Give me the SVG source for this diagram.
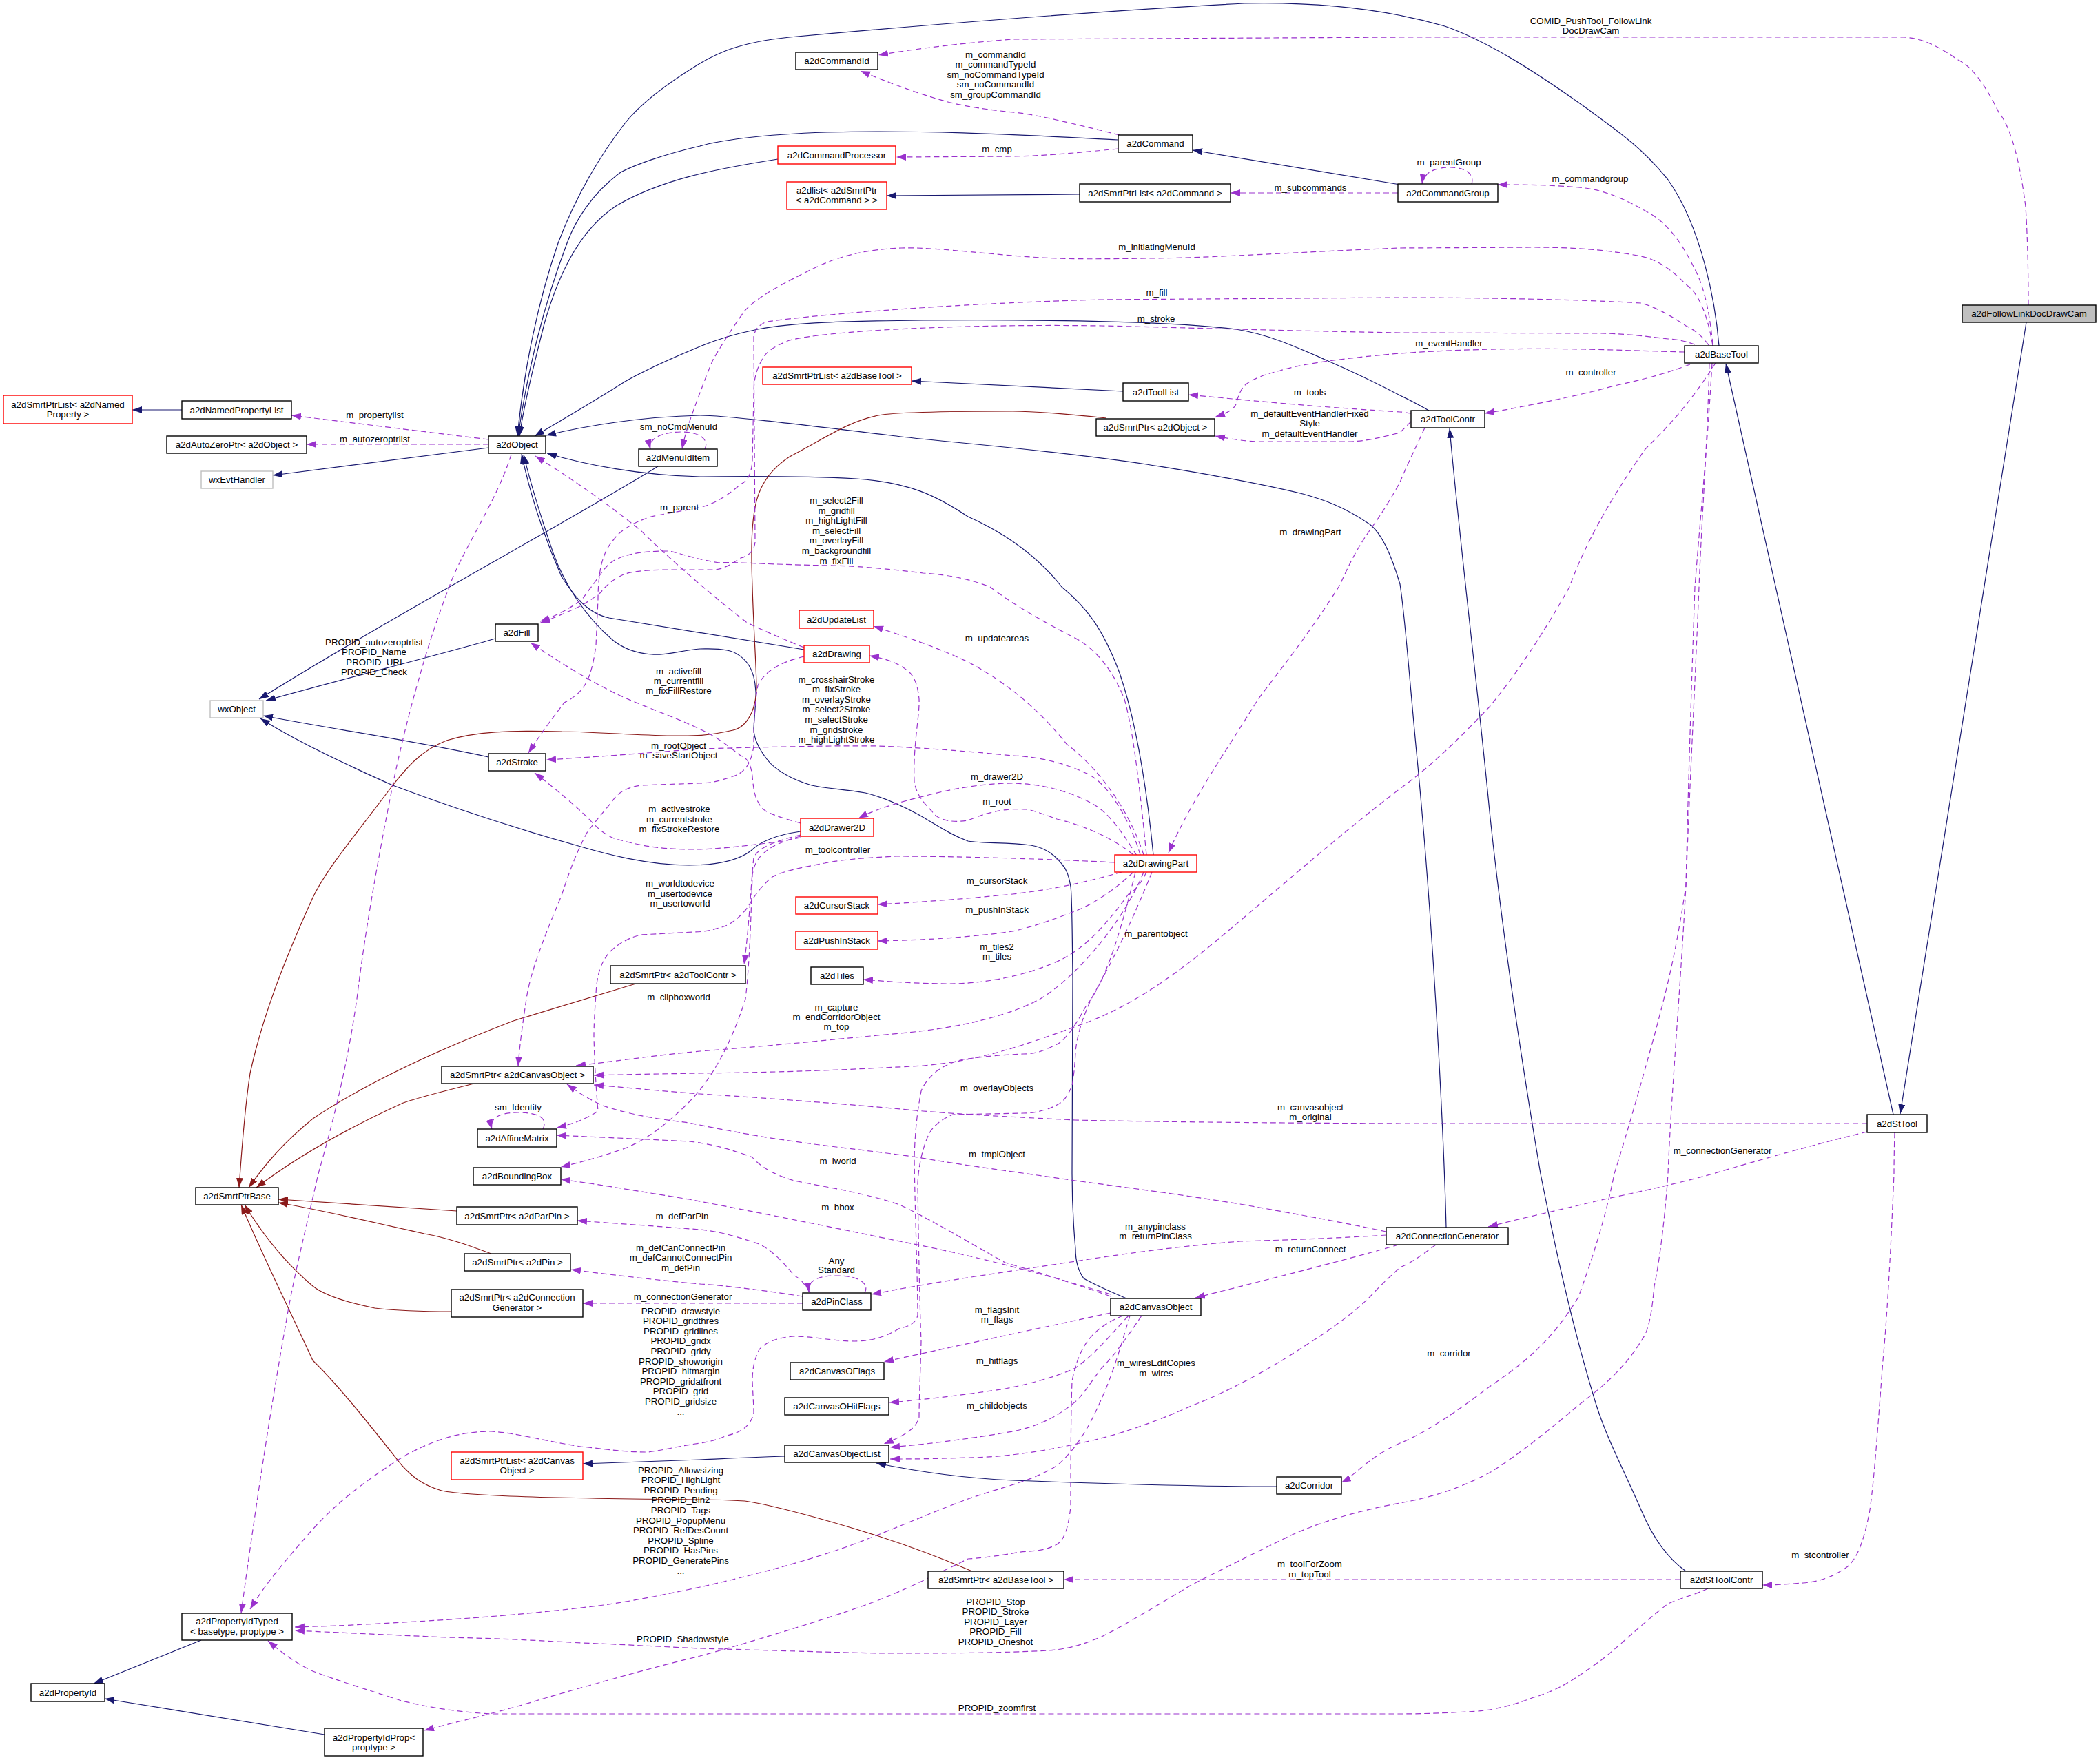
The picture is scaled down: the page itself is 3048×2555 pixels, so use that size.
<svg xmlns="http://www.w3.org/2000/svg" width="3048" height="2555" viewBox="0 0 3048 2555">
<style>
.t{font-family:"Liberation Sans",Arial,Helvetica,sans-serif;font-size:13.3px;text-anchor:middle;fill:#000}
.e{fill:none;stroke-width:1.2}
.b{stroke:#191970;marker-end:url(#ab)}
.r{stroke:#8b1a1a;marker-end:url(#ar)}
.p{stroke:#9a32cd;stroke-dasharray:8,5;marker-end:url(#ap)}
.n rect{fill:#fff;stroke:#000;stroke-width:1.4}
.nr rect{stroke:#ff0000}
.ng rect{stroke:#bfbfbf}
.nm rect{fill:#bfbfbf}
</style>
<defs>
<marker id="ab" markerUnits="userSpaceOnUse" markerWidth="15" markerHeight="11" refX="14" refY="5" orient="auto"><path d="M0,0 L14,5 L0,10 z" fill="#191970"/></marker>
<marker id="ar" markerUnits="userSpaceOnUse" markerWidth="15" markerHeight="11" refX="14" refY="5" orient="auto"><path d="M0,0 L14,5 L0,10 z" fill="#8b1a1a"/></marker>
<marker id="ap" markerUnits="userSpaceOnUse" markerWidth="15" markerHeight="11" refX="14" refY="5" orient="auto"><path d="M0,0 L14,5 L0,10 z" fill="#9a32cd"/></marker>
</defs>
<rect x="0" y="0" width="3048" height="2555" fill="#fff"/>
<g id="edges">
<path class="e b" d="M264,595 L192,595"/>
<path class="e b" d="M709,650 L396,690"/>
<path class="e b" d="M955,677 C820,760 560,900 376,1015"/>
<path class="e b" d="M719,927 C640,950 500,985 386,1017"/>
<path class="e b" d="M709,1099 C600,1075 480,1058 382,1039"/>
<path class="e b" d="M1162,1207 C1120,1213 1100,1225 1090,1235 C1070,1250 1040,1256 1000,1256 C940,1256 880,1240 836,1227 C740,1200 650,1170 570,1140 C480,1100 420,1070 378,1043"/>
<path class="e b" d="M1129,231 C1040,245 960,260 894,299 C840,335 810,400 790,470 C772,540 760,590 754,633"/>
<path class="e b" d="M1623,203 C1500,197 1350,188 1200,192 C1100,195 1040,205 1016,212 C960,225 920,240 901,250 C860,280 835,320 823,353 C790,440 765,540 752,633"/>
<path class="e b" d="M2495,502 C2490,440 2470,330 2421,261 C2380,210 2340,185 2304,158 C2230,105 2160,60 2097,38 C2000,10 1900,3 1806,5 C1600,15 1300,40 1146,54 C1070,62 1040,78 1016,92 C970,120 930,150 907,179 C860,240 830,300 810,353 C780,440 760,540 751,633"/>
<path class="e b" d="M2074,596 C2060,588 2045,580 2032,574 C1990,552 1960,538 1923,522 C1880,503 1840,485 1794,478 C1700,466 1500,464 1340,465 C1230,466 1150,468 1100,478 C1060,486 1035,495 1016,503 C970,522 935,538 907,554 C860,584 815,610 776,633"/>
<path class="e b" d="M2099,1782 C2097,1700 2085,1400 2058,1113 C2045,980 2040,900 2032,848 C2015,790 2000,770 1988,761 C1950,735 1920,725 1891,717 C1800,695 1700,680 1664,674 C1500,650 1350,640 1301,633 C1150,615 1050,603 1016,603 C930,605 850,618 793,632"/>
<path class="e b" d="M1674,1241 C1665,1150 1650,1050 1625,977 C1600,910 1575,880 1541,852 C1500,800 1450,770 1405,750 C1360,720 1320,700 1243,695 C1150,690 1060,692 1016,692 C930,690 850,675 794,658"/>
<path class="e b" d="M1167,943 L884,897 C850,890 830,860 815,837 C790,780 770,720 757,659"/>
<path class="e b" d="M1635,1885 C1600,1870 1580,1860 1573,1856 C1565,1845 1561,1830 1561,1813 C1558,1780 1556,1740 1556,1704 L1557,1420 C1556,1340 1556,1300 1554,1287 C1551,1270 1548,1262 1541,1254 C1530,1240 1515,1230 1496,1227 C1460,1222 1430,1225 1405,1221 C1380,1212 1360,1198 1334,1183 C1310,1170 1280,1157 1256,1151 C1220,1145 1200,1145 1178,1140 C1150,1132 1125,1118 1113,1102 C1100,1085 1094,1070 1094,1058 C1095,1035 1098,1015 1097,1004 C1096,985 1093,975 1087,966 C1080,955 1068,946 1055,944 C1040,941 1028,942 1016,942 C990,944 965,952 946,950 C920,948 902,940 888,928 C850,895 820,850 803,803 C790,765 772,710 760,660"/>
<path class="e b" d="M1567,282 L1287,284"/>
<path class="e b" d="M2032,268 L1731,218"/>
<path class="e b" d="M1630,568 L1323,553"/>
<path class="e b" d="M2748,1618 L2505,528"/>
<path class="e b" d="M2941,468 L2758,1617"/>
<path class="e b" d="M2447,2281 C2420,2262 2398,2230 2382,2192 C2355,2130 2333,2090 2317,2040 C2280,1920 2255,1800 2236,1704 C2205,1520 2180,1350 2162,1178 C2145,1000 2120,800 2104,622"/>
<path class="e b" d="M1853,2158 C1700,2158 1550,2152 1470,2149 C1400,2146 1330,2136 1272,2124"/>
<path class="e b" d="M1139,2114 C1080,2116 1040,2118 1016,2119 L846,2125"/>
<path class="e b" d="M292,2381 L136,2444"/>
<path class="e b" d="M471,2518 L152,2466"/>
<path class="e r" d="M1606,607 C1540,600 1500,597 1470,597 C1380,597 1300,598 1275,603 C1230,612 1200,635 1146,663 C1120,680 1105,700 1098,727 C1090,760 1090,800 1092,852 C1094,920 1098,970 1098,1000 C1097,1030 1085,1055 1064,1060 C1020,1070 1000,1068 968,1068 C900,1066 850,1062 815,1062 C740,1060 690,1062 648,1075 C610,1090 590,1115 570,1140 C510,1220 475,1260 454,1303 C410,1400 380,1480 363,1558 C355,1610 350,1680 347,1724"/>
<path class="e r" d="M923,1428 C850,1450 800,1465 745,1482 C620,1530 520,1580 454,1624 C410,1660 385,1690 361,1724"/>
<path class="e r" d="M688,1573 C640,1585 600,1595 583,1602 C500,1640 430,1680 372,1724"/>
<path class="e r" d="M663,1758 L404,1741"/>
<path class="e r" d="M713,1820 C680,1808 650,1797 616,1791 C530,1772 460,1755 404,1746"/>
<path class="e r" d="M655,1904 C600,1904 570,1902 544,1899 C500,1890 470,1880 454,1867 C410,1830 380,1790 355,1749"/>
<path class="e r" d="M1411,2281 C1350,2255 1300,2238 1275,2230 C1180,2200 1110,2183 1081,2179 C1050,2177 1020,2177 1016,2177 C800,2175 680,2172 641,2164 C610,2155 595,2140 583,2127 C530,2060 490,2010 454,1975 C410,1880 380,1820 350,1749"/>
<path class="e p" d="M709,638 L423,603"/>
<path class="e p" d="M709,645 L445,645"/>
<path class="e p" d="M1023,652 C1030,638 1015,627 990,627 C962,627 940,636 944,652"/>
<path class="e p" d="M2486,502 C2478,455 2465,425 2447,413 C2425,390 2405,377 2382,372 C2330,362 2280,359 2226,359 L2032,360 C1900,365 1750,375 1664,375 C1600,376 1560,376 1534,375 C1450,372 1360,358 1308,360 C1250,362 1210,375 1178,391 C1140,410 1100,430 1081,451 C1060,480 1045,505 1035,522 C1025,545 1020,560 1016,570 C1005,600 995,625 990,652"/>
<path class="e p" d="M1167,940 C1130,925 1100,912 1083,903 C1040,870 970,810 930,770 C880,730 830,695 777,662"/>
<path class="e p" d="M2486,500 C2480,440 2470,410 2460,391 C2440,350 2420,325 2395,310 C2360,290 2330,275 2291,272 C2250,268 2200,268 2174,268"/>
<path class="e p" d="M2944,443 C2944,380 2942,330 2940,300 C2930,220 2915,180 2901,163 C2880,120 2860,95 2842,87 C2810,65 2790,56 2764,54 L2032,54 L1470,57 C1400,62 1320,72 1275,80"/>
<path class="e p" d="M1625,196 C1560,180 1500,165 1470,163 C1420,158 1390,152 1372,147 C1330,135 1290,120 1249,103"/>
<path class="e p" d="M1623,216 C1560,222 1520,226 1470,227 L1301,228"/>
<path class="e p" d="M2136,267 C2140,255 2130,243 2105,243 C2080,243 2066,252 2064,267"/>
<path class="e p" d="M2029,280 L1786,280"/>
<path class="e p" d="M2480,501 C2470,487 2458,478 2447,473 C2420,455 2400,445 2382,440 C2300,435 2150,432 2032,432 L1599,435 C1400,440 1200,455 1113,467 C1100,472 1095,480 1094,489 L1096,787 C1095,800 1085,808 1075,810 C1060,820 1050,826 1037,827 L968,827 C930,828 910,830 899,837 C885,845 878,852 872,860 C860,870 850,875 842,880 C820,890 805,897 784,904"/>
<path class="e p" d="M2460,500 C2445,495 2432,492 2421,492 C2380,487 2350,484 2324,484 L2032,483 C1850,480 1700,475 1599,473 C1400,470 1200,480 1146,494 C1125,502 1112,510 1106,522 C1096,540 1094,555 1094,571 L1092,670 C1090,690 1085,698 1075,703 C1055,720 1035,733 1014,737 C990,742 968,745 945,750 C920,758 900,770 891,783 C880,795 875,810 872,823 C869,840 868,855 868,870 L865,937 C862,960 858,975 853,987 C845,1003 835,1012 819,1020 C800,1045 785,1065 767,1093"/>
<path class="e p" d="M2445,511 C2400,510 2350,508 2300,507 C2200,505 2100,508 2032,513 C1950,520 1890,528 1858,538 C1830,545 1815,552 1806,560 C1798,570 1796,580 1794,587 C1790,595 1780,600 1764,605"/>
<path class="e p" d="M2453,529 C2410,545 2380,552 2343,560 C2300,572 2260,580 2226,587 C2200,592 2180,596 2155,600"/>
<path class="e p" d="M2048,600 C2040,599 2035,598 2032,598 C1900,590 1800,580 1725,573"/>
<path class="e p" d="M2048,612 C2040,620 2035,625 2032,628 C2000,636 1980,641 1956,641 L1826,641 C1800,640 1780,636 1764,633"/>
<path class="e p" d="M2068,621 C2050,660 2040,680 2032,700 C2010,740 1995,760 1988,770 C1960,810 1950,840 1943,852 C1900,920 1860,970 1826,1015 C1780,1090 1730,1160 1696,1238"/>
<path class="e p" d="M1664,1241 C1655,1150 1645,1060 1632,1015 C1610,960 1580,935 1554,923 C1500,895 1460,870 1437,852 C1400,838 1370,834 1340,832 C1300,827 1250,822 1210,821 C1120,820 1060,815 1044,817 C1000,810 980,800 968,800 C930,800 910,805 899,810 C885,815 878,825 872,833 C860,850 852,860 845,870 C825,885 805,895 784,902"/>
<path class="e p" d="M1660,1241 C1640,1180 1600,1120 1548,1080 C1500,1020 1450,985 1405,961 C1350,935 1300,920 1268,909"/>
<path class="e p" d="M1655,1241 C1640,1190 1610,1140 1580,1124 C1540,1105 1500,1098 1470,1097 C1400,1090 1330,1085 1275,1083 C1200,1082 1100,1085 1016,1087 C950,1092 880,1098 793,1103"/>
<path class="e p" d="M1650,1242 C1630,1210 1610,1180 1586,1167 C1550,1147 1510,1138 1470,1137 C1420,1137 1370,1148 1340,1156 C1300,1166 1270,1175 1246,1188"/>
<path class="e p" d="M1645,1241 C1620,1220 1580,1200 1534,1189 C1510,1180 1495,1175 1489,1175 C1450,1172 1420,1185 1405,1191 C1380,1195 1360,1190 1353,1178 C1335,1160 1330,1150 1327,1135 C1325,1080 1335,1040 1334,1015 C1332,995 1328,985 1321,977 C1305,962 1285,956 1262,952"/>
<path class="e p" d="M1618,1252 C1500,1246 1380,1243 1300,1243 C1260,1245 1220,1248 1197,1253 C1160,1260 1135,1265 1121,1273 C1100,1290 1090,1310 1083,1320 C1070,1335 1060,1343 1044,1347 C1030,1351 1020,1353 1006,1353 L930,1357 C910,1362 895,1372 884,1383 C870,1400 866,1420 865,1443 C863,1470 862,1490 862,1504 C863,1550 866,1590 868,1613 C850,1625 830,1632 808,1637"/>
<path class="e p" d="M1162,1212 C1120,1222 1100,1232 1094,1245 C1090,1280 1088,1340 1080,1400"/>
<path class="e p" d="M1162,1214 C1110,1228 1096,1245 1092,1270 C1090,1330 1088,1400 1082,1450 C1060,1520 1030,1570 1000,1600 C960,1640 930,1658 907,1667 C870,1680 840,1688 814,1694"/>
<path class="e p" d="M1628,1266 C1560,1285 1520,1292 1470,1298 C1400,1305 1330,1310 1274,1313"/>
<path class="e p" d="M1645,1266 C1620,1290 1590,1310 1567,1320 C1530,1335 1500,1345 1470,1352 C1400,1362 1330,1365 1274,1366"/>
<path class="e p" d="M1664,1266 C1655,1285 1645,1295 1638,1298 C1600,1350 1570,1380 1534,1396 C1480,1420 1420,1428 1379,1428 C1330,1428 1290,1425 1253,1422"/>
<path class="e p" d="M1660,1266 C1630,1340 1560,1420 1510,1450 C1470,1472 1400,1492 1306,1500 C1200,1510 1100,1520 1016,1526 C950,1532 900,1540 836,1547"/>
<path class="e p" d="M2490,527 C2450,590 2420,620 2388,652 C2340,720 2300,790 2278,852 C2240,920 2200,980 2162,1026 C2120,1070 2080,1110 2032,1145 C1920,1230 1800,1340 1729,1395 C1670,1440 1620,1470 1567,1488 C1480,1520 1420,1540 1340,1547 C1200,1555 1100,1557 1016,1558 C950,1559 900,1560 862,1561"/>
<path class="e p" d="M2710,1631 L2032,1631 C1800,1630 1650,1628 1560,1626 C1480,1622 1400,1618 1340,1613 C1200,1600 1080,1592 1016,1588 C950,1583 900,1578 862,1575"/>
<path class="e p" d="M2012,1788 C1950,1775 1880,1762 1800,1748 C1700,1732 1620,1722 1561,1714 C1480,1702 1400,1692 1332,1680 C1260,1670 1200,1664 1153,1657 C1100,1650 1050,1640 1000,1630 C960,1625 920,1620 875,1605 C855,1596 838,1585 823,1574"/>
<path class="e p" d="M1612,1882 C1550,1860 1500,1845 1459,1833 C1400,1800 1350,1770 1306,1749 C1250,1730 1190,1722 1153,1714 C1120,1705 1100,1690 1092,1680 C1060,1668 1030,1660 1000,1657 C900,1652 850,1650 808,1648"/>
<path class="e p" d="M1612,1879 C1500,1845 1400,1820 1306,1802 C1200,1780 1100,1760 1000,1741 C900,1725 860,1718 814,1712"/>
<path class="e p" d="M788,1639 C795,1625 785,1615 752,1615 C722,1615 710,1625 714,1639"/>
<path class="e p" d="M1167,953 C1130,962 1110,975 1100,995 C1094,1030 1094,1060 1094,1083 C1090,1110 1080,1122 1064,1127 C1040,1135 1030,1137 1014,1137 L930,1140 C910,1143 898,1150 891,1160 C875,1180 862,1195 853,1207 C835,1240 825,1270 815,1300 C790,1360 770,1410 764,1450 C758,1490 754,1520 752,1548"/>
<path class="e p" d="M1162,1195 C1130,1186 1112,1180 1106,1173 C1096,1160 1094,1150 1092,1127 C1090,1110 1085,1100 1075,1097 C1060,1085 1040,1070 1025,1063 C980,1040 930,1025 890,1005 C850,985 810,960 770,933"/>
<path class="e p" d="M1162,1216 C1140,1220 1130,1223 1121,1223 C1080,1228 1040,1233 1006,1233 C950,1233 920,1225 891,1217 C875,1210 865,1200 853,1187 C830,1165 800,1140 776,1122"/>
<path class="e p" d="M742,660 C720,730 670,800 652,852 C630,910 618,950 609,982 C595,1030 580,1090 570,1140 C550,1240 530,1350 518,1450 C502,1560 480,1640 462,1704 C440,1800 425,1860 415,1921 C390,2060 365,2230 350,2342"/>
<path class="e p" d="M1648,1266 C1620,1380 1600,1430 1576,1461 C1560,1490 1550,1505 1536,1515 C1510,1528 1500,1530 1485,1530 C1440,1532 1420,1535 1398,1538 C1380,1542 1365,1550 1357,1557 C1345,1568 1340,1576 1337,1584 C1330,1620 1328,1650 1327,1680 C1328,1760 1332,1860 1332,1909 C1330,1920 1320,1926 1306,1928 C1290,1938 1270,1947 1240,1947 C1210,1947 1180,1940 1153,1940 C1125,1942 1110,1950 1102,1959 C1094,1975 1092,1990 1092,2005 C1093,2030 1094,2040 1094,2051 C1090,2070 1075,2080 1055,2084 C1040,2090 1030,2093 1016,2095 C980,2100 960,2106 940,2108 C900,2108 870,2102 843,2100 C790,2092 750,2080 713,2078 C660,2078 620,2095 583,2116 C530,2150 490,2180 454,2220 C410,2270 385,2300 363,2336"/>
<path class="e p" d="M1672,1266 C1630,1370 1600,1420 1584,1450 C1570,1480 1563,1505 1561,1527 C1560,1550 1558,1565 1556,1576 C1550,1590 1545,1598 1536,1603 C1520,1612 1500,1616 1485,1616 L1383,1618 C1365,1625 1352,1637 1347,1649 C1338,1670 1333,1695 1332,1718 C1333,1800 1335,1900 1337,1947 C1336,1990 1334,2030 1334,2057 C1330,2075 1310,2085 1283,2096"/>
<path class="e p" d="M1640,1910 C1625,1960 1615,1995 1599,2030 C1580,2075 1560,2105 1535,2127 C1500,2150 1450,2160 1405,2176 C1340,2200 1270,2232 1210,2252 C1140,2275 1070,2292 1016,2304 C950,2318 900,2328 843,2334 C750,2345 650,2352 548,2357 C500,2360 460,2361 428,2362"/>
<path class="e p" d="M1630,1910 C1580,1930 1565,1960 1556,2005 C1554,2060 1554,2150 1554,2188 C1550,2220 1545,2235 1534,2242 C1510,2255 1490,2250 1470,2255 C1440,2260 1420,2262 1405,2263 C1360,2285 1320,2305 1275,2323 C1230,2340 1190,2352 1146,2366 C1100,2380 1050,2395 1016,2404 C950,2420 860,2445 778,2469 C720,2487 660,2500 616,2512"/>
<path class="e p" d="M2481,527 C2478,650 2470,750 2466,852 C2460,1000 2452,1150 2447,1286 C2438,1450 2425,1600 2421,1704 C2415,1790 2405,1850 2401,1867 C2398,1900 2395,1920 2388,1937 C2360,1985 2330,2010 2291,2040 C2250,2075 2200,2115 2162,2138 C2110,2165 2070,2175 2032,2182 C1960,2195 1900,2215 1859,2236 C1810,2260 1770,2280 1729,2301 C1680,2330 1640,2355 1599,2376 C1570,2388 1550,2394 1521,2396 C1450,2400 1350,2400 1275,2400 C1180,2398 1090,2395 1016,2393 C950,2390 900,2387 843,2385 C760,2380 700,2378 648,2377 C560,2373 490,2370 428,2367"/>
<path class="e p" d="M2485,527 C2478,650 2468,750 2460,852 C2455,1000 2450,1150 2447,1286 C2430,1400 2415,1450 2401,1504 C2380,1580 2360,1650 2343,1704 C2330,1770 2310,1830 2291,1883 C2250,1950 2210,1980 2162,2013 C2120,2045 2070,2080 2032,2095 C2010,2105 1990,2118 1973,2133 C1962,2142 1955,2148 1947,2152"/>
<path class="e p" d="M2710,1643 C2620,1665 2550,1685 2486,1704 C2420,1722 2370,1732 2324,1742 C2270,1755 2210,1768 2160,1781"/>
<path class="e p" d="M2750,1644 C2749,1680 2749,1700 2749,1704 C2745,1800 2740,1900 2733,1975 C2725,2080 2720,2150 2714,2192 C2705,2240 2695,2262 2682,2274 C2660,2290 2640,2296 2617,2298 C2590,2300 2575,2301 2558,2301"/>
<path class="e p" d="M2439,2293 L1544,2293"/>
<path class="e p" d="M2479,2306 C2460,2315 2440,2320 2421,2328 C2380,2360 2350,2390 2324,2410 C2290,2435 2260,2455 2226,2464 C2190,2478 2160,2484 2129,2485 C2090,2487 2060,2488 2032,2488 L1016,2488 C900,2488 800,2488 713,2488 C660,2485 620,2478 583,2469 C540,2455 490,2440 454,2426 C430,2415 410,2400 389,2382"/>
<path class="e p" d="M2012,1793 C1950,1797 1870,1800 1800,1802 C1700,1810 1620,1822 1561,1831 C1450,1848 1350,1862 1265,1879"/>
<path class="e p" d="M2030,1807 C1950,1830 1850,1855 1735,1884"/>
<path class="e p" d="M2084,1807 C2060,1825 2045,1835 2032,1840 C2010,1860 2000,1870 1988,1883 C1950,1920 1900,1950 1859,1976 C1810,2005 1770,2025 1729,2041 C1680,2063 1620,2085 1567,2095 C1510,2108 1450,2116 1405,2116 C1350,2118 1320,2118 1292,2118"/>
<path class="e p" d="M1657,1910 C1630,1950 1615,1970 1599,1986 C1580,2010 1570,2030 1554,2040 C1530,2060 1500,2072 1470,2078 C1400,2090 1340,2097 1292,2101"/>
<path class="e p" d="M1612,1906 C1500,1930 1350,1962 1283,1977"/>
<path class="e p" d="M1638,1910 C1610,1940 1590,1965 1561,1986 C1530,2000 1490,2010 1459,2016 C1400,2025 1340,2032 1291,2036"/>
<path class="e p" d="M1255,1877 C1262,1865 1250,1852 1214,1852 C1185,1852 1172,1860 1174,1876"/>
<path class="e p" d="M1176,1877 C1165,1860 1160,1855 1153,1852 C1135,1830 1120,1815 1102,1806 C1070,1795 1040,1787 1016,1785 C950,1780 880,1775 838,1772"/>
<path class="e p" d="M1165,1882 C1100,1872 1050,1866 1016,1864 C950,1858 880,1850 829,1843"/>
<path class="e p" d="M1165,1892 L846,1892"/>
</g>
<g id="edge-labels" class="t">
<text x="544" y="606.6">m_propertylist</text>
<text x="544" y="641.6">m_autozeroptrlist</text>
<text x="985" y="623.6">sm_noCmdMenuId</text>
<text x="986" y="740.6">m_parent</text>
<text x="1445" y="83.6"><tspan x="1445">m_commandId</tspan><tspan x="1445" dy="14.6">m_commandTypeId</tspan><tspan x="1445" dy="14.6">sm_noCommandTypeId</tspan><tspan x="1445" dy="14.6">sm_noCommandId</tspan><tspan x="1445" dy="14.6">sm_groupCommandId</tspan></text>
<text x="1447" y="220.6">m_cmp</text>
<text x="1902" y="276.6">m_subcommands</text>
<text x="1679" y="362.6">m_initiatingMenuId</text>
<text x="1679" y="428.6">m_fill</text>
<text x="1678" y="466.6">m_stroke</text>
<text x="1901" y="573.6">m_tools</text>
<text x="1901" y="604.6"><tspan x="1901">m_defaultEventHandlerFixed</tspan><tspan x="1901" dy="14.6">Style</tspan><tspan x="1901" dy="14.6">m_defaultEventHandler</tspan></text>
<text x="1214" y="731"><tspan x="1214">m_select2Fill</tspan><tspan x="1214" dy="14.6">m_gridfill</tspan><tspan x="1214" dy="14.6">m_highLightFill</tspan><tspan x="1214" dy="14.6">m_selectFill</tspan><tspan x="1214" dy="14.6">m_overlayFill</tspan><tspan x="1214" dy="14.6">m_backgroundfill</tspan><tspan x="1214" dy="14.6">m_fixFill</tspan></text>
<text x="1902" y="776.6">m_drawingPart</text>
<text x="2309" y="34.6"><tspan x="2309">COMID_PushTool_FollowLink</tspan><tspan x="2309" dy="14.6">DocDrawCam</tspan></text>
<text x="2103" y="239.6">m_parentGroup</text>
<text x="2308" y="263.6">m_commandgroup</text>
<text x="2103" y="502.6">m_eventHandler</text>
<text x="2309" y="544.6">m_controller</text>
<text x="543" y="936.6"><tspan x="543">PROPID_autozeroptrlist</tspan><tspan x="543" dy="14.6">PROPID_Name</tspan><tspan x="543" dy="14.6">PROPID_URI</tspan><tspan x="543" dy="14.6">PROPID_Check</tspan></text>
<text x="985" y="978.6"><tspan x="985">m_activefill</tspan><tspan x="985" dy="14.3">m_currentfill</tspan><tspan x="985" dy="14.3">m_fixFillRestore</tspan></text>
<text x="985" y="1086.6"><tspan x="985">m_rootObject</tspan><tspan x="985" dy="14.3">m_saveStartObject</tspan></text>
<text x="986" y="1179.3"><tspan x="986">m_activestroke</tspan><tspan x="986" dy="14.5">m_currentstroke</tspan><tspan x="986" dy="14.5">m_fixStrokeRestore</tspan></text>
<text x="987" y="1287.3"><tspan x="987">m_worldtodevice</tspan><tspan x="987" dy="14.5">m_usertodevice</tspan><tspan x="987" dy="14.5">m_usertoworld</tspan></text>
<text x="985" y="1451.6">m_clipboxworld</text>
<text x="752" y="1611.6">sm_Identity</text>
<text x="1447" y="930.6">m_updateareas</text>
<text x="1214" y="990.6"><tspan x="1214">m_crosshairStroke</tspan><tspan x="1214" dy="14.6">m_fixStroke</tspan><tspan x="1214" dy="14.6">m_overlayStroke</tspan><tspan x="1214" dy="14.6">m_select2Stroke</tspan><tspan x="1214" dy="14.6">m_selectStroke</tspan><tspan x="1214" dy="14.6">m_gridstroke</tspan><tspan x="1214" dy="14.6">m_highLightStroke</tspan></text>
<text x="1447" y="1132">m_drawer2D</text>
<text x="1447" y="1167.6">m_root</text>
<text x="1216" y="1238">m_toolcontroller</text>
<text x="1447" y="1283">m_cursorStack</text>
<text x="1447" y="1324.6">m_pushInStack</text>
<text x="1678" y="1359.6">m_parentobject</text>
<text x="1447" y="1378.6"><tspan x="1447">m_tiles2</tspan><tspan x="1447" dy="14.3">m_tiles</tspan></text>
<text x="1214" y="1466.6"><tspan x="1214">m_capture</tspan><tspan x="1214" dy="14.4">m_endCorridorObject</tspan><tspan x="1214" dy="14.4">m_top</tspan></text>
<text x="1447" y="1584.2">m_overlayObjects</text>
<text x="1902" y="1611.6"><tspan x="1902">m_canvasobject</tspan><tspan x="1902" dy="14.5">m_original</tspan></text>
<text x="1447" y="1679.6">m_tmplObject</text>
<text x="1216" y="1690.2">m_lworld</text>
<text x="2500" y="1674.6">m_connectionGenerator</text>
<text x="1216" y="1756.6">m_bbox</text>
<text x="990" y="1769.6">m_defParPin</text>
<text x="988" y="1815.6"><tspan x="988">m_defCanConnectPin</tspan><tspan x="988" dy="14.5">m_defCannotConnectPin</tspan><tspan x="988" dy="14.5">m_defPin</tspan></text>
<text x="991" y="1887">m_connectionGenerator</text>
<text x="988" y="1907.6"><tspan x="988">PROPID_drawstyle</tspan><tspan x="988" dy="14.6">PROPID_gridthres</tspan><tspan x="988" dy="14.6">PROPID_gridlines</tspan><tspan x="988" dy="14.6">PROPID_gridx</tspan><tspan x="988" dy="14.6">PROPID_gridy</tspan><tspan x="988" dy="14.6">PROPID_showorigin</tspan><tspan x="988" dy="14.6">PROPID_hitmargin</tspan><tspan x="988" dy="14.6">PROPID_gridatfront</tspan><tspan x="988" dy="14.6">PROPID_grid</tspan><tspan x="988" dy="14.6">PROPID_gridsize</tspan><tspan x="988" dy="14.6">...</tspan></text>
<text x="988" y="2138.6"><tspan x="988">PROPID_Allowsizing</tspan><tspan x="988" dy="14.6">PROPID_HighLight</tspan><tspan x="988" dy="14.6">PROPID_Pending</tspan><tspan x="988" dy="14.6">PROPID_Bin2</tspan><tspan x="988" dy="14.6">PROPID_Tags</tspan><tspan x="988" dy="14.6">PROPID_PopupMenu</tspan><tspan x="988" dy="14.6">PROPID_RefDesCount</tspan><tspan x="988" dy="14.6">PROPID_Spline</tspan><tspan x="988" dy="14.6">PROPID_HasPins</tspan><tspan x="988" dy="14.6">PROPID_GeneratePins</tspan><tspan x="988" dy="14.6">...</tspan></text>
<text x="991" y="2383.6">PROPID_Shadowstyle</text>
<text x="1214" y="1834.6"><tspan x="1214">Any</tspan><tspan x="1214" dy="13.6">Standard</tspan></text>
<text x="1677" y="1784.6"><tspan x="1677">m_anypinclass</tspan><tspan x="1677" dy="14.6">m_returnPinClass</tspan></text>
<text x="1902" y="1818.2">m_returnConnect</text>
<text x="1447" y="1906"><tspan x="1447">m_flagsInit</tspan><tspan x="1447" dy="14.2">m_flags</tspan></text>
<text x="1447" y="1979.6">m_hitflags</text>
<text x="1678" y="1983.2"><tspan x="1678">m_wiresEditCopies</tspan><tspan x="1678" dy="15">m_wires</tspan></text>
<text x="1447" y="2044.6">m_childobjects</text>
<text x="1901" y="2275.2"><tspan x="1901">m_toolForZoom</tspan><tspan x="1901" dy="15">m_topTool</tspan></text>
<text x="1445" y="2329.6"><tspan x="1445">PROPID_Stop</tspan><tspan x="1445" dy="14.5">PROPID_Stroke</tspan><tspan x="1445" dy="14.5">PROPID_Layer</tspan><tspan x="1445" dy="14.5">PROPID_Fill</tspan><tspan x="1445" dy="14.5">PROPID_Oneshot</tspan></text>
<text x="1447" y="2484.2">PROPID_zoomfirst</text>
<text x="2103" y="1968.6">m_corridor</text>
<text x="2642" y="2262.2">m_stcontroller</text>
</g>
<g id="n_followlink" class="n nm"><rect x="2848" y="443" width="194" height="25"/><text class="t" x="2945" y="460">a2dFollowLinkDocDrawCam</text></g>
<g id="n_basetool" class="n"><rect x="2445" y="502" width="107" height="25"/><text class="t" x="2498.5" y="519">a2dBaseTool</text></g>
<g id="n_sttool" class="n"><rect x="2710" y="1618" width="87" height="26"/><text class="t" x="2753.5" y="1635.6">a2dStTool</text></g>
<g id="n_toolcontr" class="n"><rect x="2048" y="596" width="107" height="25"/><text class="t" x="2101.5" y="613">a2dToolContr</text></g>
<g id="n_sttoolcontr" class="n"><rect x="2439" y="2281" width="119" height="25"/><text class="t" x="2498.5" y="2298">a2dStToolContr</text></g>
<g id="n_commandgroup" class="n"><rect x="2029" y="267" width="145" height="26"/><text class="t" x="2101.5" y="284.6">a2dCommandGroup</text></g>
<g id="n_command" class="n"><rect x="1623" y="196" width="108" height="25"/><text class="t" x="1677" y="213">a2dCommand</text></g>
<g id="n_commandid" class="n"><rect x="1155" y="76" width="119" height="25"/><text class="t" x="1214.5" y="93">a2dCommandId</text></g>
<g id="n_commandprocessor" class="n nr"><rect x="1129" y="212" width="171" height="26"/><text class="t" x="1214.5" y="229.6">a2dCommandProcessor</text></g>
<g id="n_a2dlist" class="n nr"><rect x="1142" y="264" width="145" height="40"/><text class="t" x="1214.5" y="280.5"><tspan x="1214.5">a2dlist&lt; a2dSmrtPtr</tspan><tspan x="1214.5" dy="14.8">&lt; a2dCommand &gt; &gt;</tspan></text></g>
<g id="n_smrtptrlist_command" class="n"><rect x="1567" y="267" width="219" height="26"/><text class="t" x="1676.5" y="284.6">a2dSmrtPtrList&lt; a2dCommand &gt;</text></g>
<g id="n_smrtptrlist_basetool" class="n nr"><rect x="1107" y="533" width="216" height="25"/><text class="t" x="1215" y="550">a2dSmrtPtrList&lt; a2dBaseTool &gt;</text></g>
<g id="n_toollist" class="n"><rect x="1630" y="556" width="95" height="26"/><text class="t" x="1677.5" y="573.6">a2dToolList</text></g>
<g id="n_smrtptr_object" class="n"><rect x="1591" y="608" width="172" height="25"/><text class="t" x="1677" y="625">a2dSmrtPtr&lt; a2dObject &gt;</text></g>
<g id="n_object" class="n"><rect x="709" y="633" width="83" height="25"/><text class="t" x="750.5" y="650">a2dObject</text></g>
<g id="n_menuiditem" class="n"><rect x="927" y="652" width="114" height="25"/><text class="t" x="984" y="669">a2dMenuIdItem</text></g>
<g id="n_namedproplist" class="n"><rect x="264" y="582" width="159" height="26"/><text class="t" x="343.5" y="599.6">a2dNamedPropertyList</text></g>
<g id="n_smrtptrlist_named" class="n nr"><rect x="5" y="574" width="187" height="41"/><text class="t" x="98.5" y="591.5"><tspan x="98.5">a2dSmrtPtrList&lt; a2dNamed</tspan><tspan x="98.5" dy="14.6">Property &gt;</tspan></text></g>
<g id="n_autozero" class="n"><rect x="242" y="633" width="203" height="25"/><text class="t" x="343.5" y="650">a2dAutoZeroPtr&lt; a2dObject &gt;</text></g>
<g id="n_wxevthandler" class="n ng"><rect x="292" y="684" width="104" height="25"/><text class="t" x="344" y="701">wxEvtHandler</text></g>
<g id="n_wxobject" class="n ng"><rect x="305" y="1017" width="77" height="25"/><text class="t" x="343.5" y="1034">wxObject</text></g>
<g id="n_fill" class="n"><rect x="719" y="906" width="62" height="25"/><text class="t" x="750" y="923">a2dFill</text></g>
<g id="n_stroke" class="n"><rect x="709" y="1094" width="83" height="25"/><text class="t" x="750.5" y="1111">a2dStroke</text></g>
<g id="n_updatelist" class="n nr"><rect x="1160" y="886" width="108" height="26"/><text class="t" x="1214" y="903.6">a2dUpdateList</text></g>
<g id="n_drawing" class="n nr"><rect x="1167" y="937" width="95" height="25"/><text class="t" x="1214.5" y="954">a2dDrawing</text></g>
<g id="n_drawer2d" class="n nr"><rect x="1162" y="1188" width="106" height="26"/><text class="t" x="1215" y="1205.6">a2dDrawer2D</text></g>
<g id="n_drawingpart" class="n nr"><rect x="1618" y="1241" width="119" height="25"/><text class="t" x="1677.5" y="1258">a2dDrawingPart</text></g>
<g id="n_cursorstack" class="n nr"><rect x="1155" y="1302" width="119" height="25"/><text class="t" x="1214.5" y="1319">a2dCursorStack</text></g>
<g id="n_pushinstack" class="n nr"><rect x="1155" y="1352" width="119" height="26"/><text class="t" x="1214.5" y="1369.6">a2dPushInStack</text></g>
<g id="n_tiles" class="n"><rect x="1177" y="1404" width="76" height="25"/><text class="t" x="1215" y="1421">a2dTiles</text></g>
<g id="n_smrtptr_toolcontr" class="n"><rect x="886" y="1402" width="196" height="26"/><text class="t" x="984" y="1419.6">a2dSmrtPtr&lt; a2dToolContr &gt;</text></g>
<g id="n_smrtptr_canvasobject" class="n"><rect x="641" y="1548" width="220" height="25"/><text class="t" x="751" y="1565">a2dSmrtPtr&lt; a2dCanvasObject &gt;</text></g>
<g id="n_affinematrix" class="n"><rect x="693" y="1639" width="115" height="26"/><text class="t" x="750.5" y="1656.6">a2dAffineMatrix</text></g>
<g id="n_boundingbox" class="n"><rect x="687" y="1695" width="127" height="25"/><text class="t" x="750.5" y="1712">a2dBoundingBox</text></g>
<g id="n_smrtptrbase" class="n"><rect x="284" y="1724" width="120" height="25"/><text class="t" x="344" y="1741">a2dSmrtPtrBase</text></g>
<g id="n_smrtptr_parpin" class="n"><rect x="663" y="1752" width="175" height="26"/><text class="t" x="750.5" y="1769.6">a2dSmrtPtr&lt; a2dParPin &gt;</text></g>
<g id="n_smrtptr_pin" class="n"><rect x="674" y="1820" width="154" height="25"/><text class="t" x="751" y="1837">a2dSmrtPtr&lt; a2dPin &gt;</text></g>
<g id="n_smrtptr_conngen" class="n"><rect x="655" y="1872" width="191" height="40"/><text class="t" x="750.5" y="1887.5"><tspan x="750.5">a2dSmrtPtr&lt; a2dConnection</tspan><tspan x="750.5" dy="15">Generator &gt;</tspan></text></g>
<g id="n_pinclass" class="n"><rect x="1165" y="1877" width="99" height="25"/><text class="t" x="1214.5" y="1894">a2dPinClass</text></g>
<g id="n_canvasobject" class="n"><rect x="1612" y="1885" width="131" height="25"/><text class="t" x="1677.5" y="1902">a2dCanvasObject</text></g>
<g id="n_conngen" class="n"><rect x="2012" y="1782" width="177" height="25"/><text class="t" x="2100.5" y="1799">a2dConnectionGenerator</text></g>
<g id="n_canvasoflags" class="n"><rect x="1147" y="1978" width="136" height="25"/><text class="t" x="1215" y="1995">a2dCanvasOFlags</text></g>
<g id="n_canvasohitflags" class="n"><rect x="1139" y="2029" width="151" height="25"/><text class="t" x="1214.5" y="2046">a2dCanvasOHitFlags</text></g>
<g id="n_canvasobjectlist" class="n"><rect x="1139" y="2098" width="151" height="25"/><text class="t" x="1214.5" y="2115">a2dCanvasObjectList</text></g>
<g id="n_smrtptrlist_canvas" class="n nr"><rect x="655" y="2108" width="191" height="40"/><text class="t" x="750.5" y="2124.5"><tspan x="750.5">a2dSmrtPtrList&lt; a2dCanvas</tspan><tspan x="750.5" dy="14.6">Object &gt;</tspan></text></g>
<g id="n_corridor" class="n"><rect x="1853" y="2144" width="94" height="25"/><text class="t" x="1900" y="2161">a2dCorridor</text></g>
<g id="n_smrtptr_basetool" class="n"><rect x="1347" y="2281" width="197" height="25"/><text class="t" x="1445.5" y="2298">a2dSmrtPtr&lt; a2dBaseTool &gt;</text></g>
<g id="n_propidtyped" class="n"><rect x="264" y="2342" width="160" height="39"/><text class="t" x="344" y="2358"><tspan x="344">a2dPropertyIdTyped</tspan><tspan x="344" dy="14.5">&lt; basetype, proptype &gt;</tspan></text></g>
<g id="n_propid" class="n"><rect x="45" y="2444" width="107" height="26"/><text class="t" x="98.5" y="2461.6">a2dPropertyId</text></g>
<g id="n_propidprop" class="n"><rect x="471" y="2509" width="143" height="40"/><text class="t" x="542.5" y="2526.5"><tspan x="542.5">a2dPropertyIdProp&lt;</tspan><tspan x="542.5" dy="14.5">proptype &gt;</tspan></text></g>
</svg>
